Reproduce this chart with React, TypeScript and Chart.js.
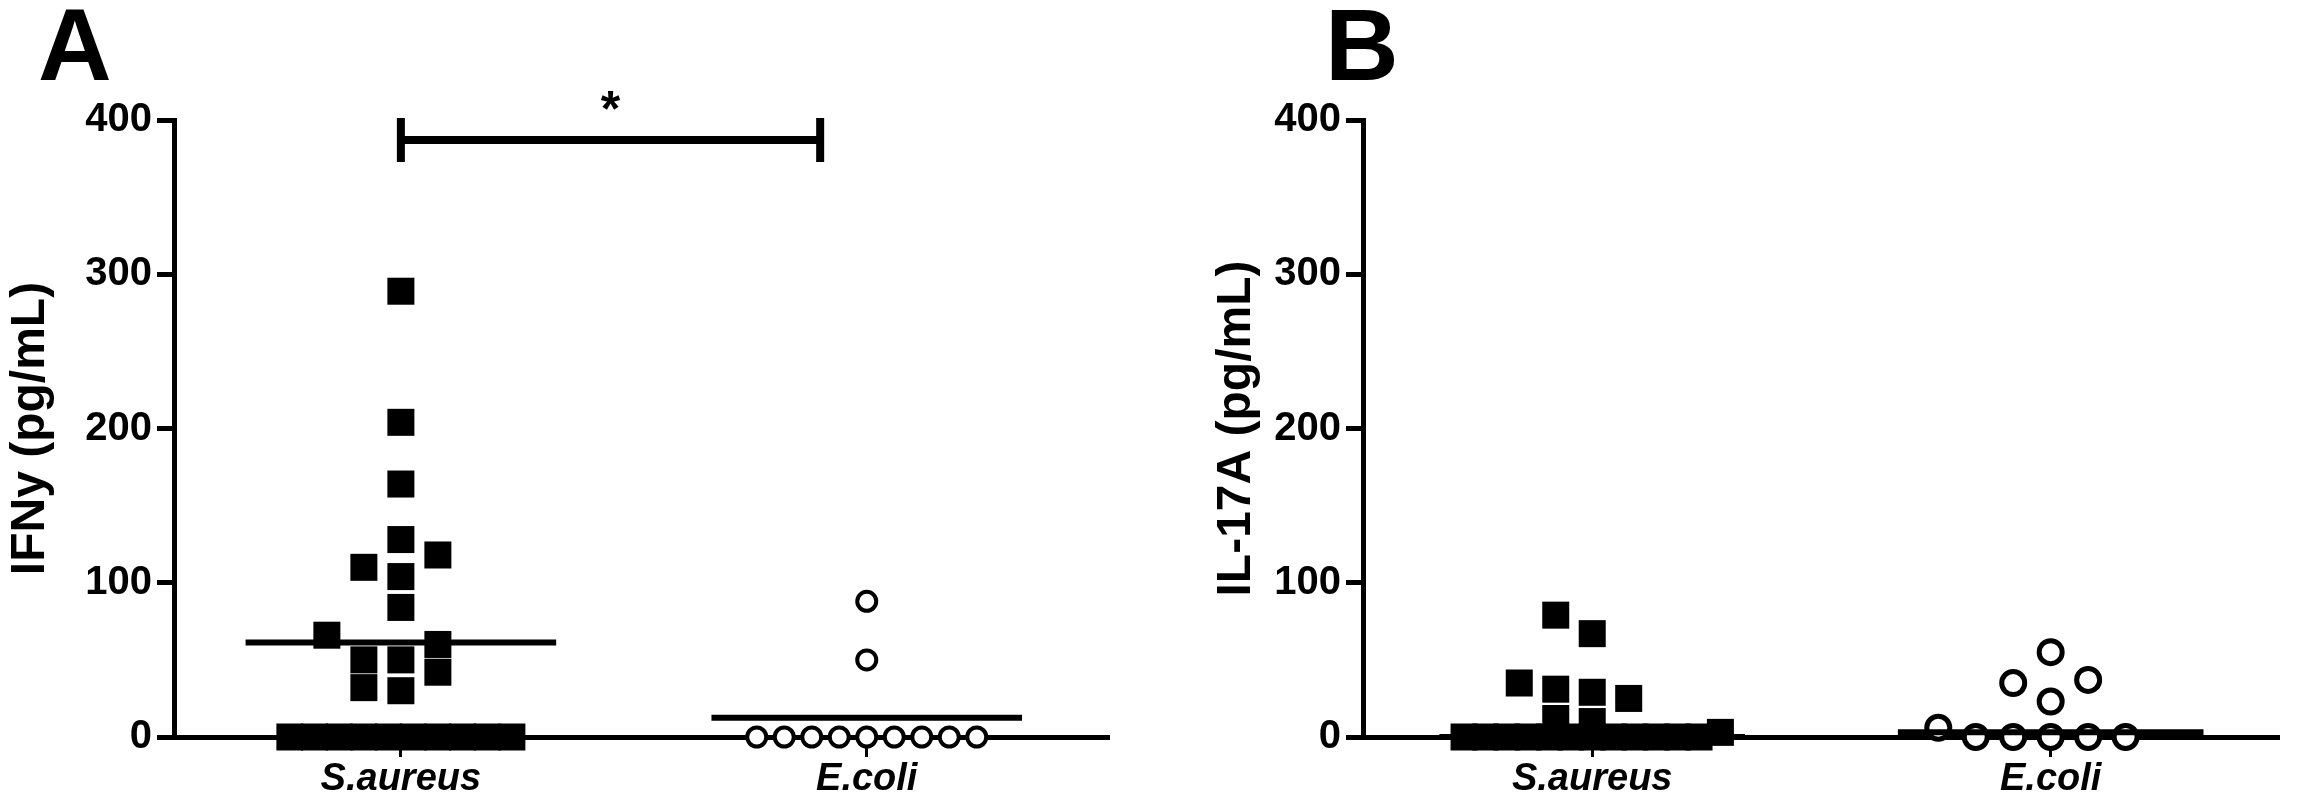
import { useEffect, useRef } from "react"
import { Chart, registerables } from "chart.js"

Chart.register(...registerables)

const FONT = "'Liberation Sans', Arial, Helvetica, sans-serif"

// categories on both x axes
const groups = ["S.aureus", "E.coli"]

// y axis ticks (pg/mL), shared by both panels
const yTicks = [0, 100, 200, 300, 400]

// Panel A: IFNy (pg/mL), one value per sample
const ifnSaureus = [289, 204, 164, 128, 118, 110, 104, 84, 66, 60, 50, 50, 42, 32, 30, 0, 0, 0, 0, 0, 0, 0, 0, 0, 0]
const ifnEcoli = [88, 50, 0, 0, 0, 0, 0, 0, 0, 0, 0]

// Panel B: IL-17A (pg/mL), one value per sample
const il17Saureus = [79, 67, 35, 31, 29, 25, 12, 10, 3, 0, 0, 0, 0, 0, 0, 0, 0, 0, 0, 0, 0]
const il17Ecoli = [55, 37, 35, 23, 6, 0, 0, 0, 0, 0]

// significance bracket drawn over panel A
const ifnSignificance = { from: 1, to: 1.9, y: 387, label: "*" }

// plot area, in canvas pixels (both panels share it)
const CANVAS_H = 800
const PLOT_TOP = 120
const PLOT_BOTTOM = 737

type Marker = {
  pointStyle: "rect" | "circle"
  radius: number
  fill: string
  borderWidth: number
  sizePx: number // outer size, used by the dot layout
  stepPx: number // spacing between side-by-side dots
}

const SQUARE: Marker = { pointStyle: "rect", radius: 19.1, fill: "#000", borderWidth: 0, sizePx: 27, stepPx: 37 }
const CIRCLE_A: Marker = { pointStyle: "circle", radius: 9.5, fill: "#fff", borderWidth: 4, sizePx: 23, stepPx: 27.5 }
const CIRCLE_B: Marker = { pointStyle: "circle", radius: 11.5, fill: "#fff", borderWidth: 5, sizePx: 28, stepPx: 38 }

const mean = (v: number[]) => v.reduce((a, b) => a + b, 0) / v.length
const median = (v: number[]) => {
  const s = [...v].sort((a, b) => a - b)
  const m = Math.floor(s.length / 2)
  return s.length % 2 ? s[m] : (s[m - 1] + s[m]) / 2
}

/**
 * Scatter dot plot layout: near-equal values are laid out as a centred row
 * (squeezed when too wide), the rest are pushed sideways until they stop overlapping.
 * Returns x offsets in category units.
 */
function swarmOffsets(values: number[], m: Marker, rowHalfPx: number, pxPerVal: number, pxPerCat: number) {
  const order = values.map((_, i) => i).sort((a, b) => values[a] - values[b])
  const py = values.map((v) => v * pxPerVal)
  const out = new Array(values.length).fill(0)
  const placed: { x: number; y: number; row: boolean }[] = []
  const singles: number[] = []

  let i = 0
  while (i < order.length) {
    let j = i
    while (j + 1 < order.length && py[order[j + 1]] - py[order[i]] < 0.25 * m.sizePx) j++
    const members = order.slice(i, j + 1)
    if (members.length >= 3) {
      const n = members.length
      const half = Math.min(((n - 1) / 2) * m.stepPx, rowHalfPx)
      const slots = members
        .map((_, k) => -half + (2 * half * k) / (n - 1))
        .sort((a, b) => Math.abs(a) - Math.abs(b) || a - b)
      members.forEach((idx, k) => {
        out[idx] = slots[k]
        placed.push({ x: slots[k], y: py[idx], row: true })
      })
    } else {
      singles.push(...members)
    }
    i = j + 1
  }

  for (const idx of singles) {
    for (let k = 0; k < 60; k++) {
      const cand = (k % 2 ? -Math.ceil(k / 2) : k / 2) * m.stepPx
      const hit = placed.some(
        (q) => Math.abs(q.x - cand) < m.sizePx - 0.01 && Math.abs(q.y - py[idx]) < (q.row ? 0.5 : 1) * m.sizePx,
      )
      if (!hit) {
        out[idx] = cand
        placed.push({ x: cand, y: py[idx], row: false })
        break
      }
    }
  }
  return out.map((o) => o / pxPerCat)
}

const bracketPlugin = {
  id: "bracket",
  afterDatasetsDraw(chart: any, _args: any, opts: any) {
    const sig = opts && opts.sig
    if (!sig) return
    const { ctx } = chart
    const xs = chart.scales.x
    const ys = chart.scales.y
    const x0 = xs.getPixelForValue(sig.from)
    const x1 = xs.getPixelForValue(sig.to)
    const yy = ys.getPixelForValue(sig.y)
    ctx.save()
    ctx.strokeStyle = "#000"
    ctx.lineCap = "butt"
    ctx.lineWidth = 8
    ctx.beginPath()
    ctx.moveTo(x0, yy)
    ctx.lineTo(x1, yy)
    ctx.moveTo(x0, yy - 22)
    ctx.lineTo(x0, yy + 22)
    ctx.moveTo(x1, yy - 22)
    ctx.lineTo(x1, yy + 22)
    ctx.stroke()
    ctx.fillStyle = "#000"
    ctx.font = `bold 50px ${FONT}`
    ctx.textAlign = "center"
    ctx.textBaseline = "alphabetic"
    ctx.fillText(sig.label, (x0 + x1) / 2, yy - 14)
    ctx.restore()
  },
}

interface PanelProps {
  left: number
  width: number
  axisWidth: number
  plotWidth: number
  xMin: number
  xMax: number
  yTitle: string
  titlePad: number
  series: number[][]
  markers: Marker[]
  center: "mean" | "median"
  rowHalfPx: number
  significance?: typeof ifnSignificance
}

function Panel({
  left,
  width,
  axisWidth,
  plotWidth,
  xMin,
  xMax,
  yTitle,
  titlePad,
  series,
  markers,
  center,
  rowHalfPx,
  significance,
}: PanelProps) {
  const canvasRef = useRef<HTMLCanvasElement>(null)

  useEffect(() => {
    if (!canvasRef.current) return
    const ctx = canvasRef.current.getContext("2d")
    if (!ctx) return

    const yMax = yTicks[yTicks.length - 1]
    const pxPerVal = (PLOT_BOTTOM - PLOT_TOP) / yMax
    const pxPerCat = plotWidth / (xMax - xMin)

    const pointSets = series.map((values, g) => {
      const m = markers[g]
      const offs = swarmOffsets(values, m, rowHalfPx, pxPerVal, pxPerCat)
      return {
        type: "scatter",
        label: groups[g],
        data: values.map((v, i) => ({ x: g + 1 + offs[i], y: v })),
        pointStyle: m.pointStyle,
        pointRadius: m.radius,
        backgroundColor: m.fill,
        borderColor: "#000",
        borderWidth: m.borderWidth,
        clip: false,
        order: 1,
      }
    })

    const lineSets = series.map((values, g) => {
      const c = center === "mean" ? mean(values) : median(values)
      return {
        type: "line",
        label: `${groups[g]} ${center}`,
        data: [
          { x: g + 1 - 1 / 3, y: c },
          { x: g + 1 + 1 / 3, y: c },
        ],
        borderColor: "#000",
        borderWidth: 6,
        borderCapStyle: "butt",
        pointRadius: 0,
        clip: false,
        order: 0,
      }
    })

    const chart = new Chart(ctx, {
      type: "scatter",
      data: { datasets: [...pointSets, ...lineSets] as any },
      plugins: [bracketPlugin],
      options: {
        responsive: false,
        animation: false,
        events: [],
        layout: {
          padding: { top: PLOT_TOP, right: width - axisWidth - plotWidth, bottom: 0, left: 0 },
        },
        plugins: {
          legend: { display: false },
          tooltip: { enabled: false },
          bracket: { sig: significance },
        } as any,
        scales: {
          x: {
            type: "linear",
            min: xMin,
            max: xMax,
            afterFit: (s: any) => {
              s.height = CANVAS_H - PLOT_BOTTOM
            },
            afterBuildTicks: (s: any) => {
              s.ticks = groups.map((_, i) => ({ value: i + 1 }))
            },
            ticks: {
              callback: (v: any) => groups[Number(v) - 1] ?? "",
              color: "#000",
              padding: 0,
              maxRotation: 0,
              autoSkip: false,
              font: { family: FONT, size: 38, weight: "bold", style: "italic" },
            },
            grid: {
              display: true,
              drawOnChartArea: false,
              drawTicks: true,
              tickLength: 20,
              tickWidth: 3,
              tickColor: "#000",
            },
            border: { display: true, color: "#000", width: 5 },
          },
          y: {
            min: yTicks[0],
            max: yMax,
            afterFit: (s: any) => {
              s.width = axisWidth
            },
            afterBuildTicks: (s: any) => {
              s.ticks = yTicks.map((value) => ({ value }))
            },
            ticks: {
              color: "#000",
              padding: 5,
              font: { family: FONT, size: 40, weight: "bold" },
            },
            grid: {
              display: true,
              drawOnChartArea: false,
              drawTicks: true,
              tickLength: 17,
              tickWidth: 5,
              tickColor: "#000",
            },
            border: { display: true, color: "#000", width: 5 },
            title: {
              display: true,
              text: yTitle,
              color: "#000",
              padding: { top: titlePad, bottom: 0 },
              font: { family: FONT, size: 48, weight: "bold" },
            },
          },
        },
      } as any,
    })

    return () => {
      chart.destroy()
    }
  }, [left, width, axisWidth, plotWidth, xMin, xMax, yTitle, titlePad, series, markers, center, rowHalfPx, significance])

  return (
    <canvas
      ref={canvasRef}
      width={width}
      height={CANVAS_H}
      style={{ position: "absolute", left, top: 0, width, height: CANVAS_H }}
    />
  )
}

const letterStyle = {
  position: "absolute" as const,
  top: -6,
  fontFamily: FONT,
  fontWeight: "bold" as const,
  fontSize: 102,
  lineHeight: "102px",
  color: "#000",
}

export default function App() {
  return (
    <div
      style={{
        position: "fixed",
        left: 0,
        top: 0,
        width: 2299,
        height: 800,
        background: "#fff",
        overflow: "hidden",
      }}
    >
      <Panel
        left={0}
        width={1140}
        axisWidth={174}
        plotWidth={935}
        xMin={0.513}
        xMax={2.52}
        yTitle="IFNy (pg/mL)"
        titlePad={2}
        series={[ifnSaureus, ifnEcoli]}
        markers={[SQUARE, CIRCLE_A]}
        center="mean"
        rowHalfPx={111}
        significance={ifnSignificance}
      />
      <Panel
        left={1200}
        width={1099}
        axisWidth={163}
        plotWidth={930}
        xMin={0.5}
        xMax={2.5}
        yTitle="IL-17A (pg/mL)"
        titlePad={8}
        series={[il17Saureus, il17Ecoli]}
        markers={[SQUARE, CIRCLE_B]}
        center="median"
        rowHalfPx={130}
      />
      <div style={{ ...letterStyle, left: 38 }}>A</div>
      <div style={{ ...letterStyle, left: 1325 }}>B</div>
    </div>
  )
}
